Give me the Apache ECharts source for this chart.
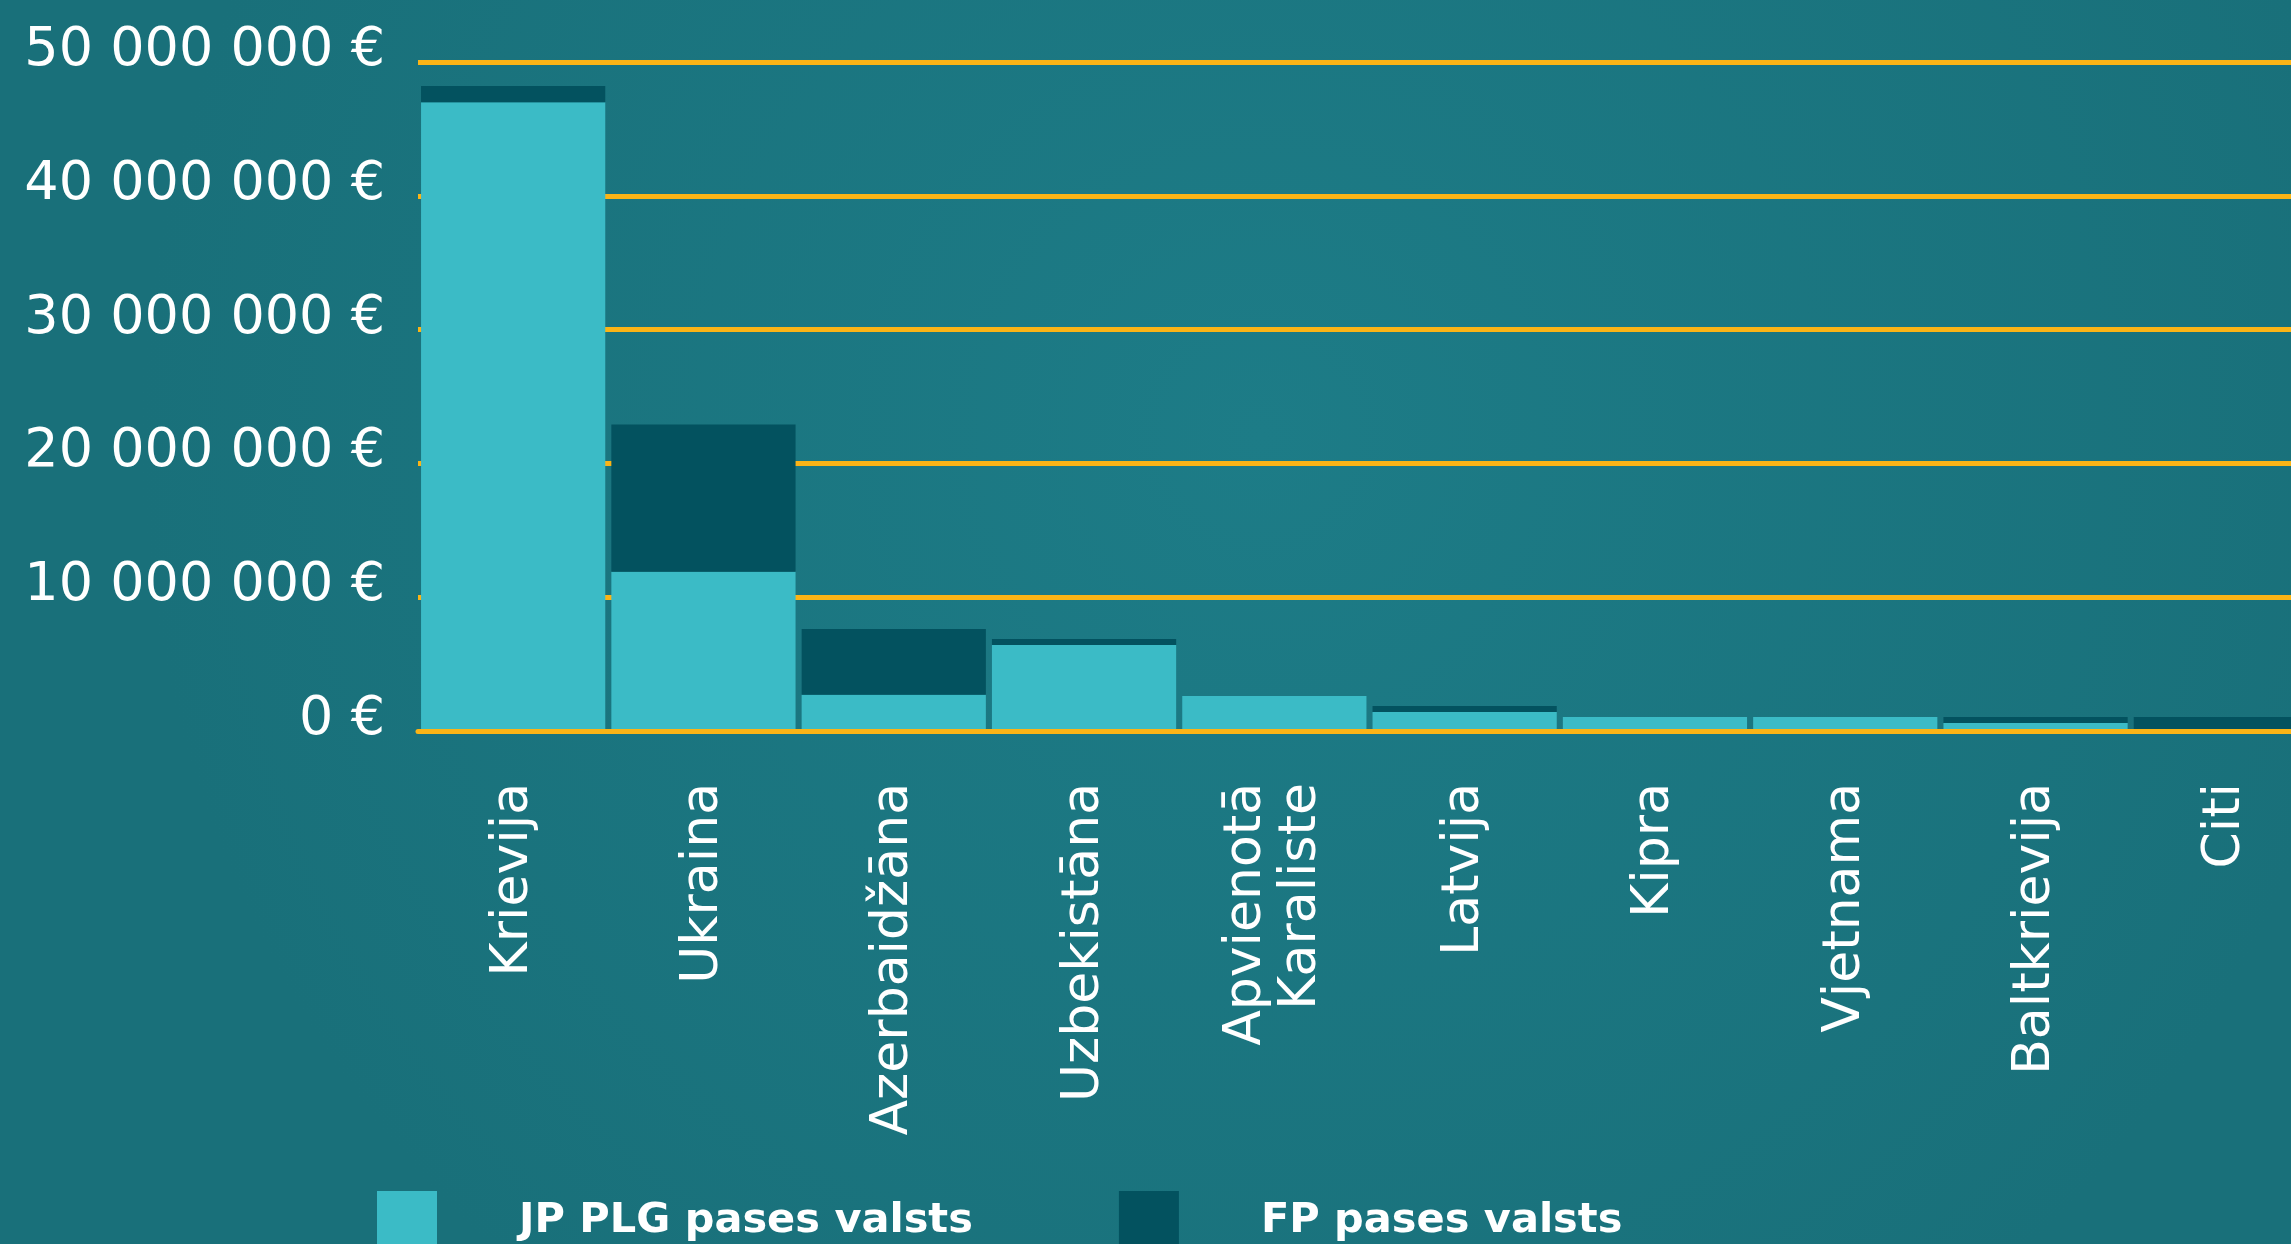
<!DOCTYPE html>
<html>
<head>
<meta charset="utf-8">
<title>Pases valstis</title>
<script src="https://cdn.jsdelivr.net/npm/echarts@6/dist/echarts.min.js"></script>
<style>
  html, body { margin: 0; padding: 0; background: #1b7580; }
  #chart { width: 2291px; height: 1244px; }
</style>
</head>
<body>
<div id="chart"></div>
<script>
  // data (EUR)
  const countries = ["Krievija", "Ukraina", "Azerbaidžāna", "Uzbekistāna", "Apvienotā\nKaraliste",
    "Latvija", "Kipra", "Vjetnama", "Baltkrievija", "Citi"];
  const jpValues = [47000000, 11900000, 2700000, 6430000, 2620000, 1420000, 1050000, 1050000, 600000, 0];
  const fpValues = [1200000, 11000000, 4930000, 450000, 0, 450000, 0, 0, 450000, 1050000];
  const seriesNames = ["JP PLG pases valsts", "FP pases valsts"];
  const yTicks = [0, 10000000, 20000000, 30000000, 40000000, 50000000];

  const LIGHT = "#3bbbc6";
  const DARK = "#03525f";
  const GOLD = "#fbb416";
  const FONT = "DejaVu Sans";

  function formatEuro(v) {
    return String(v).replace(/\B(?=(\d{3})+(?!\d))/g, " ") + " €";
  }

  const chart = echarts.init(document.getElementById("chart"));

  const option = {
    backgroundColor: {
      type: "radial", x: 0.55, y: 0.35, r: 0.9,
      colorStops: [
        { offset: 0, color: "#1d7c87" },
        { offset: 1, color: "#19707a" }
      ]
    },
    animation: false,
    // plot runs past the right edge, the last bar is cut off like in the original
    grid: { left: 418, width: 1903, top: 62, bottom: 513, outerBoundsMode: "none" },
    legend: {
      data: seriesNames,
      left: 377,
      top: 1191,
      padding: 0,
      icon: "rect",
      itemWidth: 60,
      itemHeight: 60,
      itemGap: 146,
      selectedMode: false,
      textStyle: {
        color: "#ffffff",
        fontFamily: FONT,
        fontWeight: "bold",
        fontSize: 41.5,
        padding: [0, 0, 0, 77]
      }
    },
    xAxis: {
      type: "category",
      data: countries,
      z: 10,
      axisLine: { show: true, lineStyle: { color: GOLD, width: 5 } },
      axisTick: { show: false },
      axisLabel: {
        rotate: 90,
        margin: 52,
        interval: 0,
        color: "#ffffff",
        fontFamily: FONT,
        fontSize: 52,
        lineHeight: 55
      }
    },
    yAxis: {
      type: "value",
      min: 0,
      max: 50000000,
      interval: 10000000,
      axisLine: { show: false },
      axisTick: { show: false },
      splitLine: { lineStyle: { color: GOLD, width: 5 } },
      axisLabel: {
        margin: 33,
        color: "#ffffff",
        fontFamily: FONT,
        fontSize: 54,
        verticalAlign: "bottom",
        lineHeight: 22,
        formatter: function (v) {
          return yTicks.indexOf(v) >= 0 ? formatEuro(v) : "";
        }
      }
    },
    series: [
      {
        name: seriesNames[0],
        type: "bar",
        stack: "total",
        data: jpValues,
        barCategoryGap: "3.2%",
        itemStyle: { color: LIGHT }
      },
      {
        name: seriesNames[1],
        type: "bar",
        stack: "total",
        data: fpValues,
        barCategoryGap: "3.2%",
        itemStyle: { color: DARK }
      }
    ]
  };

  chart.setOption(option);
</script>
</body>
</html>
